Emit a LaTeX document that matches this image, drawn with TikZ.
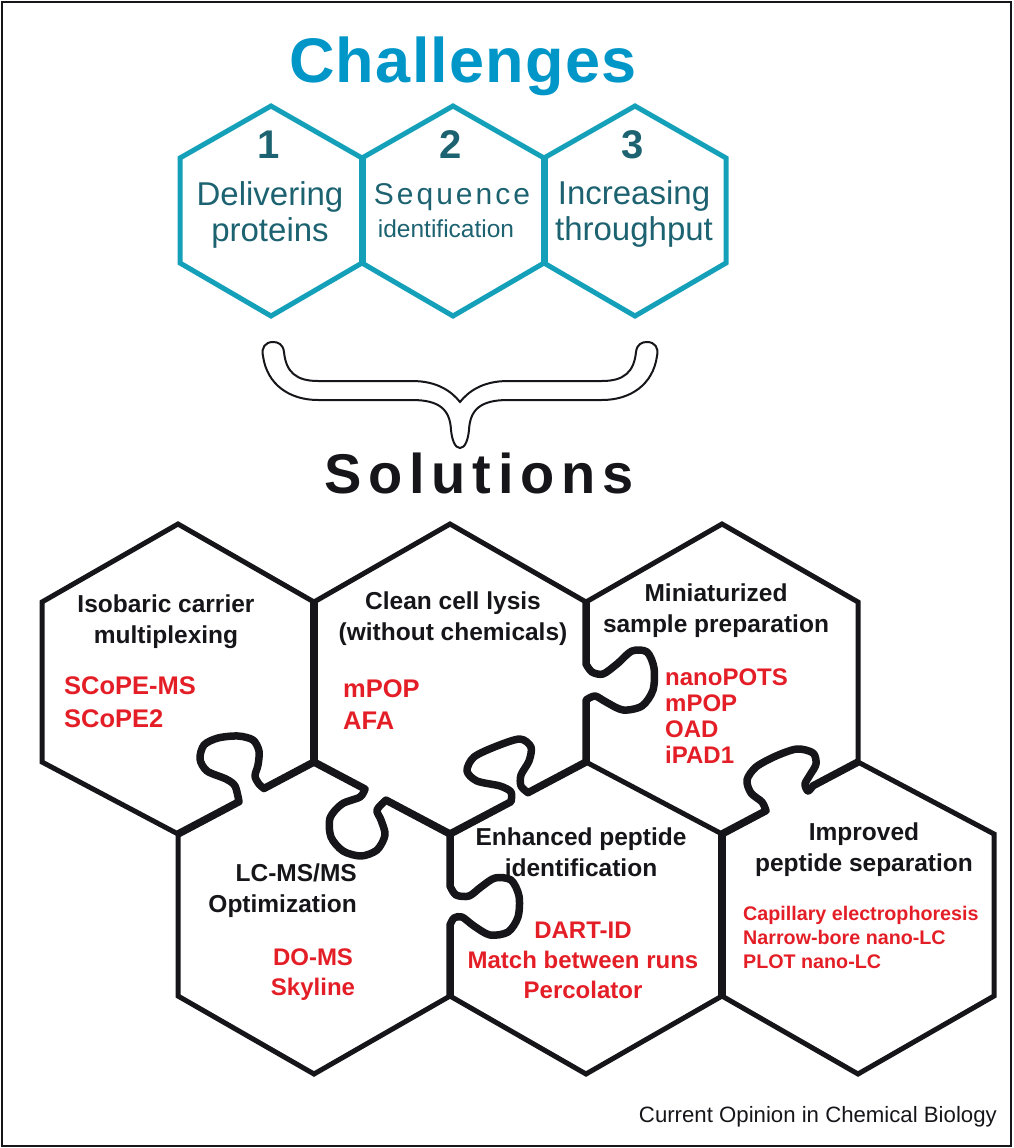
\documentclass[tikz,border=0pt]{standalone}
\usepackage{fontspec}
\setmainfont{Liberation Sans}
\usepackage{xcolor}
\usepackage{tikz}

\definecolor{chalblue}{RGB}{0,150,200}
\definecolor{tealline}{RGB}{20,160,185}
\definecolor{tealtext}{RGB}{28,98,112}
\definecolor{toolred}{RGB}{228,30,38}
\definecolor{inkblack}{RGB}{22,22,26}

\begin{document}
\begin{tikzpicture}[x=1pt, y=-1pt,
  every node/.style={inner sep=0pt, align=center},
  chal/.style={line width=5pt, draw=tealline, line join=miter},
  cell/.style={line width=5pt, draw=inkblack, line join=miter},
  seam/.style={line width=7.5pt, draw=inkblack, line join=round},
  issue/.style={font=\fontsize{33}{36}\selectfont, text=tealtext},
  title/.style={font=\bfseries\fontsize{24.5}{31}\selectfont, text=inkblack},
  tool/.style={font=\bfseries\fontsize{24}{30}\selectfont, text=toolred}]
     \useasboundingbox (0,0) rectangle (1013,1148);
     \draw[line width=2pt, inkblack] (2,2) rectangle (1011,1146);

     % challenges
     \node[anchor=base, text=chalblue, font=\bfseries\fontsize{63}{66}\selectfont\addfontfeature{LetterSpace=2}] (chal) at (463,82) {Challenges};
     \draw[chal] (180,158) -- (271,106) -- (362,158) -- (453,106) -- (544,158) -- (635,106) -- (726,158) -- (726,263)
        -- (635,316) -- (544,263) -- (453,316) -- (362,263) -- (271,316) -- (180,263) -- cycle;
     \draw[chal, line width=7pt] (362,158) -- (362,263);
     \draw[chal, line width=7pt] (544,158) -- (544,263);

     \node[text=tealtext, font=\bfseries\fontsize{40}{40}\selectfont] (n1) at (269,145) {1};
     \node[text=tealtext, font=\bfseries\fontsize{40}{40}\selectfont] (n2) at (451,145) {2};
     \node[text=tealtext, font=\bfseries\fontsize{40}{40}\selectfont] (n3) at (633,145) {3};
     \node[issue] (deliver) at (270,215) {Delivering\\proteins};
     \node[issue, font=\fontsize{30}{30}\selectfont\addfontfeature{LetterSpace=10}] (seq) at (452,197) {Sequence};
     \node[issue, font=\fontsize{24.5}{26}\selectfont] (seqid) at (446,229) {identification};
     \node[issue] (through) at (634,214) {Increasing\\throughput};

     % brace
     \draw[line width=2pt, inkblack, fill=white] (284,352) .. controls (286,372) and (296,381) .. (318,381) -- (412,381)
        .. controls (438,381) and (452,392) .. (460,402) .. controls (468,392) and (482,381) .. (508,381) -- (602,381)
        .. controls (624,381) and (634,372) .. (636,352) .. controls (637,344) and (642,342) .. (647,342)
        .. controls (655,342) and (659,348) .. (657,356) .. controls (653,385) and (630,400) .. (602,400) -- (508,400)
        .. controls (480,400) and (470,410) .. (469,430) .. controls (468,440) and (465,448) .. (460,448)
        .. controls (455,448) and (452,440) .. (451,430) .. controls (450,410) and (440,400) .. (412,400) -- (318,400)
        .. controls (290,400) and (267,385) .. (263,356) .. controls (261,348) and (265,342) .. (273,342)
        .. controls (278,342) and (283,344) .. (284,352) -- cycle;

     % solutions
     \node[anchor=base, text=inkblack, font=\bfseries\fontsize{56}{60}\selectfont\addfontfeature{LetterSpace=12}] (sol) at (479,493) {Solutions};

     \draw[cell] (42,602) -- (178,524) -- (314,602) -- (450,524) -- (586,602) -- (722,524) -- (858,602) -- (858,762)
        -- (994,834) -- (994,996) -- (858,1074) -- (722,996) -- (586,1074) -- (450,996) -- (314,1074) -- (178,996)
        -- (178,834) -- (42,762) -- cycle;
     \draw[seam] (314,602) -- (314,762);
     \draw[seam] (722,834) -- (722,996);
     \draw[cell] (586,762) -- (722,834);
     \draw[seam] (178,834) -- plot[smooth] coordinates {(239,801.7) (235,786) (226,779) (207,771) (200,759) (204,745)
        (218,738) (238,736) (253,740) (259,751) (258,765) (255,776) (259,784) (264,788.5)} -- (314,762);
     \draw[seam] (314,762) -- plot[smooth] coordinates {(365,789) (360,797) (342,804) (330,818) (331,837) (343,851)
        (361,856) (377,850) (385,835) (381,820) (377,810) (386,800.1)} -- (450,834);
     \draw[seam] (450,834) -- plot[smooth] coordinates {(511,801.7) (511,792) (500,786) (477,781) (467,771) (474,757)
        (497,746) (520,739) (531,747) (529,761) (521,775) (521,786) (528,792.7)} -- (586,762);
     \draw[seam] (586,602) -- plot[smooth] coordinates {(586,664) (592,672) (603,674) (617,664) (632,651) (647,652)
        (654,668) (653,690) (642,706) (623,710) (606,702) (595,696) (586,700)} -- (586,762);
     \draw[seam] (450,834) -- plot[smooth] coordinates {(450,886) (456,895) (469,896) (481,887) (495,878) (511,880)
        (519,896) (518,917) (508,932) (490,935) (474,926) (462,917) (454,918) (450,925)} -- (450,996);
     \draw[seam] (722,834) -- plot[smooth] coordinates {(766,810.7) (762,802) (751,793) (747,780) (756,767) (776,756)
        (797,749) (813,753) (816,764) (810,775) (805,784) (808,791) (813,785.8)} -- (858,762);

     \node[title] (iso) at (166,622) {Isobaric carrier\\multiplexing};
     \node[tool, anchor=west, align=left, font=\bfseries\fontsize{25.5}{33}\selectfont] (isotools) at (64,702) {SCoPE-MS\\SCoPE2};
     \node[title] (lysis) at (453,619) {Clean cell lysis\\(without chemicals)};
     \node[tool, anchor=west, align=left, font=\bfseries\fontsize{25.5}{32}\selectfont] (lysistools) at (343,705) {mPOP\\AFA};
     \node[title] (mini) at (716,611) {Miniaturized\\sample preparation};
     \node[tool, anchor=west, align=left, font=\bfseries\fontsize{24}{26}\selectfont] (minitools) at (665,716) {nanoPOTS\\mPOP\\OAD\\iPAD1};
     \node[title, anchor=east, align=right] (lcms) at (357,891) {LC-MS/MS\\Optimization};
     \node[tool] (lcmstools) at (313,975) {DO-MS\\Skyline};
     \node[title] (pepid) at (581,852) {Enhanced peptide\\identification};
     \node[tool] (pepidtools) at (583,960) {DART-ID\\Match between runs\\Percolator};
     \node[title] (pepsep) at (864,850) {Improved\\peptide separation};
     \node[tool, anchor=west, align=left, font=\bfseries\fontsize{19.7}{24}\selectfont] (pepseptools) at (743,937) {Capillary electrophoresis\\Narrow-bore nano-LC\\PLOT nano-LC};

     \node[anchor=east, text=inkblack, font=\fontsize{22.2}{26}\selectfont] (journal) at (997,1117) {Current Opinion in Chemical Biology};
\end{tikzpicture}
\end{document}
